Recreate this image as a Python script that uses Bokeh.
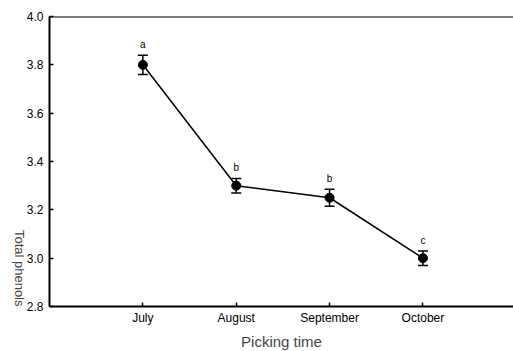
import math
from bokeh.plotting import figure
from bokeh.models import (ColumnDataSource, Whisker, TeeHead, Range1d, FixedTicker,
                          PrintfTickFormatter, Span)
from bokeh.core.properties import value
from bokeh.embed import file_html
from bokeh.resources import INLINE

# ---- data ----
months = ["July", "August", "September", "October"]
phenols = [3.80, 3.30, 3.25, 3.00]
errors = [0.04, 0.03, 0.035, 0.03]
letters = ["a", "b", "b", "c"]
y_ticks = [2.8, 3.0, 3.2, 3.4, 3.6, 3.8, 4.0]
x_label = "Picking time"
y_label = "Total phenols"

xs = list(range(1, len(months) + 1))
src = ColumnDataSource(dict(
    x=xs, y=phenols,
    upper=[v + e for v, e in zip(phenols, errors)],
    lower=[v - e for v, e in zip(phenols, errors)],
    letter=letters,
))

FONT = "Liberation Sans"

p = figure(output_backend="svg", toolbar_location=None,
           frame_width=464, frame_height=290,
           min_border_left=49, min_border_right=0, min_border_top=16, min_border_bottom=45,
           x_range=Range1d(0, 4.97), y_range=Range1d(2.8, 4.0),
           background_fill_color="white", border_fill_color="white")
p.outline_line_color = None
p.xgrid.visible = False
p.ygrid.visible = False

# axes
for ax in (p.xaxis[0], p.yaxis[0]):
    ax.axis_line_width = 2
    ax.axis_line_color = "black"
    ax.major_tick_in = 4
    ax.major_tick_out = 0
    ax.major_tick_line_width = 1.5
    ax.minor_tick_line_color = None
    ax.major_label_text_font = FONT
    ax.major_label_text_font_size = "12px"
    ax.major_label_text_color = "black"

p.xaxis.ticker = FixedTicker(ticks=xs)
p.xaxis.major_label_overrides = {x: m for x, m in zip(xs, months)}
p.xaxis.major_label_standoff = 4
p.xaxis.axis_label = x_label
p.xaxis.axis_label_text_font = FONT
p.xaxis.axis_label_text_font_style = "normal"
p.xaxis.axis_label_text_font_size = "15px"
p.xaxis.axis_label_standoff = 5

p.yaxis.ticker = FixedTicker(ticks=y_ticks)
p.yaxis.formatter = PrintfTickFormatter(format="%.1f")
p.yaxis.major_label_standoff = 6
p.yaxis.axis_label = y_label
p.yaxis.axis_label_text_font = FONT
p.yaxis.axis_label_text_font_style = "normal"
p.yaxis.axis_label_text_font_size = "13px"
p.yaxis.axis_label_standoff = 4
p.yaxis.axis_label_orientation = -math.pi / 2
p.yaxis.axis_label_align = "start"

# top border line
p.add_layout(Span(location=4.0, dimension="width", line_color="black", line_width=2))

# series
p.line("x", "y", source=src, line_color="black", line_width=1.5)
p.add_layout(Whisker(source=src, base="x", upper="upper", lower="lower",
                     line_color="black", line_width=1.5,
                     upper_head=TeeHead(size=10, line_color="black", line_width=1.5),
                     lower_head=TeeHead(size=10, line_color="black", line_width=1.5)))
p.scatter("x", "y", source=src, size=9, fill_color="black", line_color="black")

p.text("x", "upper", text="letter", source=src, text_align="center",
       text_baseline="bottom", y_offset=-5, text_font=value(FONT),
       text_font_size="10px", text_color="black")

open("out.html", "w").write(file_html(p, INLINE))
